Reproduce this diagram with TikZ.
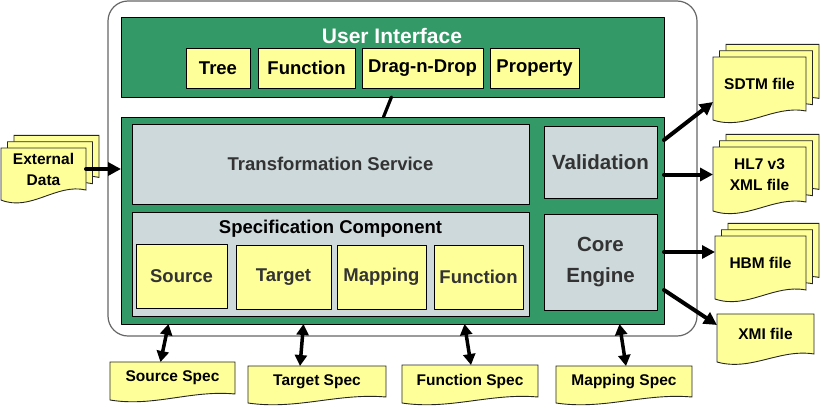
\documentclass[tikz,border=0pt]{standalone}
\usepackage{fontspec}
\setmainfont{Liberation Sans}
\usetikzlibrary{arrows.meta,calc,backgrounds}
\definecolor{uigreen}{RGB}{51,153,102}
\definecolor{noteyellow}{RGB}{255,255,153}
\definecolor{svcgrey}{RGB}{206,217,219}
\definecolor{txtgrey}{RGB}{51,51,51}

% page outline behind a named node: #1 back copies, #3 wave depth
\newcommand{\drawdoc}[3][0]{%
  \begin{pgfonlayer}{background}
    \foreach \k in {#1,...,0}{
      \draw[docline, transform canvas={shift={({6.5*\k},{-6.3*\k})}}]
        (#2.north west) -- (#2.north east) -- (#2.south east)
        .. controls ($(#2.south west)!0.65!(#2.south east)+(0,-0.7*#3)$)
        and ($(#2.south west)!0.35!(#2.south east)+(0,2.2*#3)$)
        .. ($(#2.south west)+(0,#3)$) -- cycle;
    }
  \end{pgfonlayer}}

\begin{document}
\begin{tikzpicture}[x=1pt, y=-1pt, line cap=round, line join=round,
  box/.style={draw, line width=0.9pt, inner sep=0pt, outer sep=0pt, anchor=north west},
  greenbox/.style={box, fill=uigreen},
  greybox/.style={box, fill=svcgrey, text=txtgrey, align=center,
    font=\bfseries\fontsize{18.5}{22}\selectfont},
  bigbox/.style={greybox, font=\bfseries\fontsize{20.5}{31}\selectfont},
  itembox/.style={box, fill=noteyellow, minimum height=40pt,
    font=\bfseries\fontsize{18.5}{22}\selectfont},
  partbox/.style={box, fill=noteyellow, minimum height=64pt, text=txtgrey,
    font=\bfseries\fontsize{18.5}{22}\selectfont},
  docnode/.style={inner sep=0pt, outer sep=0pt, anchor=north west, align=center,
    font=\bfseries\fontsize{15.5}{21}\selectfont},
  docline/.style={draw=black!85, fill=noteyellow, line width=0.9pt},
  bigarrow/.style={line width=4pt, -{Triangle[length=13pt,width=13pt]}},
  dblarrow/.style={line width=3.5pt, {Triangle[length=11pt,width=12pt]}-{Triangle[length=11pt,width=12pt]}},
  link/.style={line width=3.2pt}]
  \useasboundingbox (0,0) rectangle (822,407);

  \node[box, draw=black!60, line width=1.2pt, fill=white, rounded corners=20pt,
    minimum width=589pt, minimum height=335pt] (frame) at (108,1) {};

  % user interface
  \node[greenbox, minimum width=543pt, minimum height=80pt] (ui) at (121,17) {};
  \node[text=white, font=\bfseries\fontsize{21}{24}\selectfont] (uititle) at (392,36) {User Interface};
  \node[itembox, minimum width=64pt] (tree) at (186,48) {Tree};
  \node[itembox, minimum width=97pt] (uifun) at (258,48) {Function};
  \node[itembox, minimum width=121pt] (dnd) at (362,48) {Drag-n-Drop};
  \node[itembox, minimum width=89pt] (prop) at (490,48) {Property};

  % engine
  \node[greenbox, minimum width=543pt, minimum height=207pt] (main) at (121,117) {};
  \node[greybox, minimum width=397pt, minimum height=80pt] (svc) at (132,124) {Transformation Service};
  \node[greybox, minimum width=397pt, minimum height=104pt] (spec) at (132,212) {};
  \node[text=black, font=\bfseries\fontsize{18.5}{22}\selectfont] (spectitle) at (330.5,229) {Specification Component};
  \node[partbox, minimum width=91pt] (src) at (136,244) {Source};
  \node[partbox, minimum width=95pt] (tgt) at (236,245) {Target};
  \node[partbox, minimum width=89pt] (map) at (337,245) {Mapping};
  \node[partbox, minimum width=89pt] (fun) at (434,245) {Function};
  \node[bigbox, minimum width=113pt, minimum height=72pt] (val) at (544,126) {Validation};
  \node[bigbox, minimum width=113pt, minimum height=96pt] (core) at (544,214) {Core\\Engine};

  % files
  \node[docnode, minimum width=85pt, minimum height=42pt] (ext) at (1,148) {External\\Data};
  \node[docnode, minimum width=93pt, minimum height=54pt] (sdtm) at (713,57) {SDTM file};
  \node[docnode, minimum width=93pt, minimum height=55pt] (hl7) at (713,147) {HL7 v3\\XML file};
  \node[docnode, minimum width=91pt, minimum height=54pt] (hbm) at (715,236) {HBM file};
  \node[docnode, minimum width=97pt, minimum height=40pt] (xmi) at (717,314) {XMI file};
  \node[docnode, minimum width=125pt, minimum height=32pt] (srcspec) at (110,362) {Source Spec};
  \node[docnode, minimum width=138pt, minimum height=31pt] (tgtspec) at (248,366) {Target Spec};
  \node[docnode, minimum width=136pt, minimum height=32pt] (funspec) at (402,365) {Function Spec};
  \node[docnode, minimum width=136pt, minimum height=31pt] (mapspec) at (556,366) {Mapping Spec};
  \drawdoc[2]{ext}{10}
  \drawdoc[2]{sdtm}{9}
  \drawdoc[2]{hl7}{9}
  \drawdoc[2]{hbm}{9}
  \drawdoc{xmi}{8}
  \drawdoc{srcspec}{6}
  \drawdoc{tgtspec}{6}
  \drawdoc{funspec}{6}
  \drawdoc{mapspec}{6}

  % connectors
  \draw[link] ($(ui.south)+(-1,0)$) -- ($(main.north)+(-9,0)$);
  \draw[bigarrow] (ext.east) -- (ext.east -| main.west);
  \draw[bigarrow] ($(val.east -| main.east)+(0,-22)$) -- ($(sdtm.west)+(0,18)$);
  \draw[bigarrow] (hl7.west -| main.east) -- (hl7.west);
  \draw[bigarrow] ($(core.east -| main.east)+(0,-10)$) -- ($(hbm.west)+(0,-11)$);
  \draw[bigarrow] ($(core.east -| main.east)+(0,28)$) -- ($(xmi.west)+(0,-9)$);
  \draw[dblarrow] ($(src.south |- main.south)+(-13,0)$) -- ($(srcspec.north)+(-12,0)$);
  \draw[dblarrow] ($(tgt.south |- main.south)+(20,0)$) -- ($(tgtspec.north)+(-17,0)$);
  \draw[dblarrow] ($(fun.south |- main.south)+(-14,0)$) -- ($(funspec.north)+(1,0)$);
  \draw[dblarrow] ($(core.south |- main.south)+(19,0)$) -- ($(mapspec.north)+(2,0)$);
\end{tikzpicture}
\end{document}
